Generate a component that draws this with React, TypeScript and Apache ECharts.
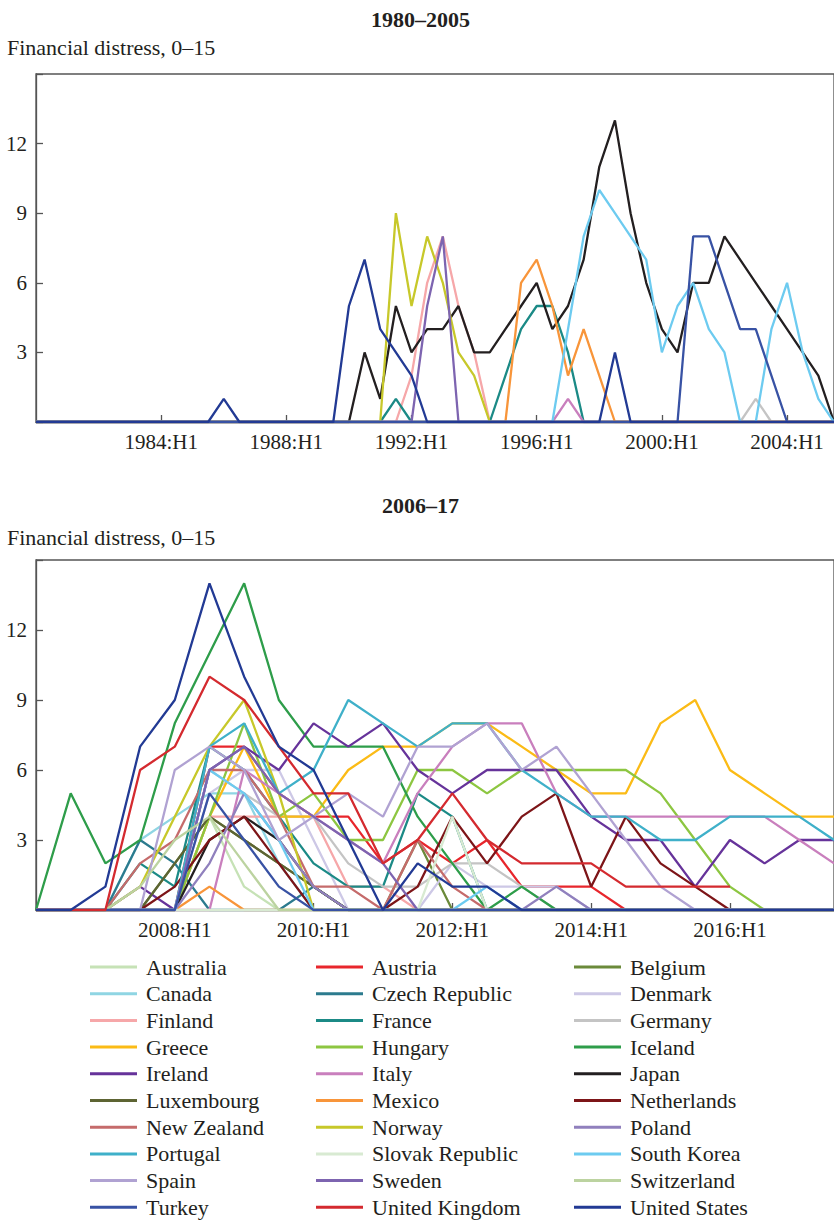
import React, { useEffect, useRef } from "react";
import * as echarts from "echarts";

const FONT = "'Liberation Serif', 'Times New Roman', serif";
const TEXT = "#231f20";
const FRAME = "#555555";

const COUNTRIES = [
  "Australia", "Austria", "Belgium",
  "Canada", "Czech Republic", "Denmark",
  "Finland", "France", "Germany",
  "Greece", "Hungary", "Iceland",
  "Ireland", "Italy", "Japan",
  "Luxembourg", "Mexico", "Netherlands",
  "New Zealand", "Norway", "Poland",
  "Portugal", "Slovak Republic", "South Korea",
  "Spain", "Sweden", "Switzerland",
  "Turkey", "United Kingdom", "United States",
];

const COLORS = [
  "#c6e2b6", "#e8262c", "#6b8a3a",
  "#8fd5e3", "#2c7b8e", "#cdc8e6",
  "#f6a7a9", "#1b8a86", "#c4c4c4",
  "#fbbb16", "#8dc641", "#2e9d4a",
  "#66339a", "#c97fbd", "#231f20",
  "#5d6433", "#f8953a", "#7d1518",
  "#c56b6b", "#c7c82a", "#9080bd",
  "#3fb0c9", "#d8ead2", "#6dcbf0",
  "#b0a2d2", "#7d64b0", "#bcd3a0",
  "#3852a4", "#d42a2f", "#223a94",
];

// Half-year categories
const TOP_YEARS_FROM = 1980;
const TOP_YEARS_TO = 2005;
const BOTTOM_YEARS_FROM = 2006;
const BOTTOM_YEARS_TO = 2017;

const TOP_LABEL_EVERY = 8;
const BOTTOM_LABEL_EVERY = 4;
const Y_TICKS = [3, 6, 9, 12];

// ---------- 1980-2005 (52 half-years) ----------
const topUnitedStates = [
  0, 0, 0, 0, 0, 0, 0, 0, 0, 0,
  0, 0, 1, 0, 0, 0, 0, 0, 0, 0,
  5, 7, 4, 3, 2, 0, 0, 0, 0, 0,
  0, 0, 0, 0, 0, 0, 0, 3, 0, 0,
  0, 0, 0, 0, 0, 0, 0, 0, 0, 0,
  0, 0,
];
const topJapan = [
  0, 0, 0, 0, 0, 0, 0, 0, 0, 0,
  0, 0, 0, 0, 0, 0, 0, 0, 0, 0,
  0, 3, 1, 5, 3, 4, 4, 5, 3, 3,
  4, 5, 6, 4, 5, 7, 11, 13, 9, 6,
  4, 3, 6, 6, 8, 7, 6, 5, 4, 3,
  2, 0,
];
const topNorway = [
  0, 0, 0, 0, 0, 0, 0, 0, 0, 0,
  0, 0, 0, 0, 0, 0, 0, 0, 0, 0,
  0, 0, 0, 9, 5, 8, 6, 3, 2, 0,
  0, 0, 0, 0, 0, 0, 0, 0, 0, 0,
  0, 0, 0, 0, 0, 0, 0, 0, 0, 0,
  0, 0,
];
const topFinland = [
  0, 0, 0, 0, 0, 0, 0, 0, 0, 0,
  0, 0, 0, 0, 0, 0, 0, 0, 0, 0,
  0, 0, 0, 0, 2, 6, 8, 5, 3, 0,
  0, 0, 0, 0, 0, 0, 0, 0, 0, 0,
  0, 0, 0, 0, 0, 0, 0, 0, 0, 0,
  0, 0,
];
const topSweden = [
  0, 0, 0, 0, 0, 0, 0, 0, 0, 0,
  0, 0, 0, 0, 0, 0, 0, 0, 0, 0,
  0, 0, 0, 0, 0, 5, 8, 0, 0, 0,
  0, 0, 0, 0, 0, 0, 0, 0, 0, 0,
  0, 0, 0, 0, 0, 0, 0, 0, 0, 0,
  0, 0,
];
const topFrance = [
  0, 0, 0, 0, 0, 0, 0, 0, 0, 0,
  0, 0, 0, 0, 0, 0, 0, 0, 0, 0,
  0, 0, 0, 1, 0, 0, 0, 0, 0, 0,
  2, 4, 5, 5, 3, 0, 0, 0, 0, 0,
  0, 0, 0, 0, 0, 0, 0, 0, 0, 0,
  0, 0,
];
const topMexico = [
  0, 0, 0, 0, 0, 0, 0, 0, 0, 0,
  0, 0, 0, 0, 0, 0, 0, 0, 0, 0,
  0, 0, 0, 0, 0, 0, 0, 0, 0, 0,
  0, 6, 7, 5, 2, 4, 2, 0, 0, 0,
  0, 0, 0, 0, 0, 0, 0, 0, 0, 0,
  0, 0,
];
const topItaly = [
  0, 0, 0, 0, 0, 0, 0, 0, 0, 0,
  0, 0, 0, 0, 0, 0, 0, 0, 0, 0,
  0, 0, 0, 0, 0, 0, 0, 0, 0, 0,
  0, 0, 0, 0, 1, 0, 0, 0, 0, 0,
  0, 0, 0, 0, 0, 0, 0, 0, 0, 0,
  0, 0,
];
const topSouthKorea = [
  0, 0, 0, 0, 0, 0, 0, 0, 0, 0,
  0, 0, 0, 0, 0, 0, 0, 0, 0, 0,
  0, 0, 0, 0, 0, 0, 0, 0, 0, 0,
  0, 0, 0, 0, 4, 8, 10, 9, 8, 7,
  3, 5, 6, 4, 3, 0, 0, 4, 6, 3,
  1, 0,
];
const topTurkey = [
  0, 0, 0, 0, 0, 0, 0, 0, 0, 0,
  0, 0, 0, 0, 0, 0, 0, 0, 0, 0,
  0, 0, 0, 0, 0, 0, 0, 0, 0, 0,
  0, 0, 0, 0, 0, 0, 0, 0, 0, 0,
  0, 0, 8, 8, 6, 4, 4, 2, 0, 0,
  0, 0,
];
const topGermany = [
  0, 0, 0, 0, 0, 0, 0, 0, 0, 0,
  0, 0, 0, 0, 0, 0, 0, 0, 0, 0,
  0, 0, 0, 0, 0, 0, 0, 0, 0, 0,
  0, 0, 0, 0, 0, 0, 0, 0, 0, 0,
  0, 0, 0, 0, 0, 0, 1, 0, 0, 0,
  0, 0,
];

// ---------- 2006-17 (24 half-years) ----------
const botAustralia = [0, 0, 0, 0, 0, 4, 1, 0, 0, 0, 0, 0, 0, 0, 0, 0, 0, 0, 0, 0, 0, 0, 0, 0];
const botAustria = [0, 0, 0, 0, 0, 7, 7, 5, 4, 4, 2, 3, 2, 3, 1, 1, 1, 0, 0, 0, 0, 0, 0, 0];
const botBelgium = [0, 0, 0, 0, 2, 4, 3, 2, 1, 0, 0, 3, 0, 0, 0, 0, 0, 0, 0, 0, 0, 0, 0, 0];
const botCanada = [0, 0, 0, 3, 4, 5, 5, 2, 0, 0, 0, 0, 0, 0, 0, 0, 0, 0, 0, 0, 0, 0, 0, 0];
const botCzechRepublic = [0, 0, 0, 3, 2, 0, 0, 0, 1, 0, 0, 0, 0, 0, 0, 0, 0, 0, 0, 0, 0, 0, 0, 0];
const botDenmark = [0, 0, 0, 0, 0, 5, 6, 6, 3, 0, 0, 0, 2, 1, 1, 1, 0, 0, 0, 0, 0, 0, 0, 0];
const botFinland = [0, 0, 0, 0, 0, 4, 4, 4, 4, 1, 1, 0, 0, 0, 0, 0, 0, 0, 0, 0, 0, 0, 0, 0];
const botFrance = [0, 0, 0, 2, 1, 7, 6, 4, 2, 1, 1, 5, 4, 0, 0, 0, 0, 0, 0, 0, 0, 0, 0, 0];
const botGermany = [0, 0, 0, 0, 0, 6, 5, 4, 4, 2, 1, 1, 2, 2, 1, 0, 0, 0, 0, 0, 0, 0, 0, 0];
const botGreece = [0, 0, 0, 0, 0, 4, 7, 4, 4, 6, 7, 7, 8, 8, 7, 6, 5, 5, 8, 9, 6, 5, 4, 4];
const botHungary = [0, 0, 0, 0, 0, 4, 8, 4, 5, 3, 3, 6, 6, 5, 6, 6, 6, 6, 5, 3, 1, 0, 0, 0];
const botIceland = [0, 5, 2, 3, 8, 11, 14, 9, 7, 7, 7, 4, 2, 0, 1, 0, 0, 0, 0, 0, 0, 0, 0, 0];
const botIreland = [0, 0, 0, 1, 0, 6, 7, 6, 8, 7, 8, 6, 5, 6, 6, 6, 4, 3, 3, 1, 3, 2, 3, 3];
const botItaly = [0, 0, 0, 0, 0, 0, 6, 5, 4, 3, 2, 5, 7, 8, 8, 5, 4, 4, 4, 4, 4, 4, 3, 2];
const botJapan = [0, 0, 0, 0, 0, 3, 4, 3, 1, 0, 0, 0, 0, 0, 0, 0, 0, 0, 0, 0, 0, 0, 0, 0];
const botLuxembourg = [0, 0, 0, 0, 2, 4, 3, 2, 1, 0, 0, 0, 0, 0, 0, 0, 0, 0, 0, 0, 0, 0, 0, 0];
const botMexico = [0, 0, 0, 0, 0, 1, 0, 0, 0, 0, 0, 0, 0, 0, 0, 0, 0, 0, 0, 0, 0, 0, 0, 0];
const botNetherlands = [0, 0, 0, 0, 1, 3, 4, 2, 0, 0, 0, 1, 4, 2, 4, 5, 1, 4, 2, 1, 0, 0, 0, 0];
const botNewZealand = [0, 0, 0, 2, 3, 6, 6, 4, 1, 1, 0, 3, 1, 0, 0, 0, 0, 0, 0, 0, 0, 0, 0, 0];
const botNorway = [0, 0, 0, 1, 4, 7, 9, 5, 0, 0, 0, 0, 0, 0, 0, 0, 0, 0, 0, 0, 0, 0, 0, 0];
const botPoland = [0, 0, 0, 0, 0, 2, 5, 3, 1, 0, 0, 0, 0, 0, 0, 1, 0, 0, 0, 0, 0, 0, 0, 0];
const botPortugal = [0, 0, 0, 0, 0, 7, 8, 5, 6, 9, 8, 7, 8, 8, 6, 5, 4, 4, 3, 3, 4, 4, 4, 3];
const botSlovakRepublic = [0, 0, 0, 0, 0, 0, 0, 0, 0, 0, 0, 0, 4, 0, 0, 0, 0, 0, 0, 0, 0, 0, 0, 0];
const botSouthKorea = [0, 0, 0, 0, 0, 6, 5, 3, 0, 0, 0, 0, 0, 1, 0, 0, 0, 0, 0, 0, 0, 0, 0, 0];
const botSpain = [0, 0, 0, 0, 6, 7, 6, 3, 4, 5, 4, 7, 7, 8, 6, 7, 5, 3, 1, 0, 0, 0, 0, 0];
const botSweden = [0, 0, 0, 0, 0, 6, 7, 5, 4, 3, 2, 0, 0, 0, 0, 0, 0, 0, 0, 0, 0, 0, 0, 0];
const botSwitzerland = [0, 0, 0, 1, 3, 4, 2, 0, 0, 0, 0, 0, 0, 0, 0, 0, 0, 0, 0, 0, 0, 0, 0, 0];
const botTurkey = [0, 0, 0, 0, 0, 5, 3, 1, 0, 0, 0, 0, 0, 0, 0, 0, 0, 0, 0, 0, 0, 0, 0, 0];
const botUnitedKingdom = [0, 0, 0, 6, 7, 10, 9, 7, 5, 5, 2, 3, 5, 3, 2, 2, 2, 1, 1, 1, 1, null, null, null];
const botUnitedStates = [0, 0, 1, 7, 9, 14, 10, 7, 6, 3, 0, 2, 1, 1, 0, 0, 0, 0, 0, 0, 0, 0, 0, 0];

const TOP_SERIES: [string, number[]][] = [
  ["Finland", topFinland],
  ["France", topFrance],
  ["Germany", topGermany],
  ["Italy", topItaly],
  ["Japan", topJapan],
  ["Mexico", topMexico],
  ["Norway", topNorway],
  ["South Korea", topSouthKorea],
  ["Sweden", topSweden],
  ["Turkey", topTurkey],
  ["United States", topUnitedStates],
];

const BOTTOM_SERIES: [string, (number | null)[]][] = [
  ["Australia", botAustralia],
  ["Austria", botAustria],
  ["Belgium", botBelgium],
  ["Canada", botCanada],
  ["Czech Republic", botCzechRepublic],
  ["Denmark", botDenmark],
  ["Finland", botFinland],
  ["France", botFrance],
  ["Germany", botGermany],
  ["Greece", botGreece],
  ["Hungary", botHungary],
  ["Iceland", botIceland],
  ["Ireland", botIreland],
  ["Italy", botItaly],
  ["Japan", botJapan],
  ["Luxembourg", botLuxembourg],
  ["Mexico", botMexico],
  ["Netherlands", botNetherlands],
  ["New Zealand", botNewZealand],
  ["Norway", botNorway],
  ["Poland", botPoland],
  ["Portugal", botPortugal],
  ["Slovak Republic", botSlovakRepublic],
  ["South Korea", botSouthKorea],
  ["Spain", botSpain],
  ["Sweden", botSweden],
  ["Switzerland", botSwitzerland],
  ["Turkey", botTurkey],
  ["United Kingdom", botUnitedKingdom],
  ["United States", botUnitedStates],
];

function halfYears(from: number, to: number): string[] {
  const out: string[] = [];
  for (let y = from; y <= to; y++) {
    out.push(`${y}:H1`, `${y}:H2`);
  }
  return out;
}

const colorOf = (name: string) => COLORS[COUNTRIES.indexOf(name)];

function buildOption() {
  const topCats = halfYears(TOP_YEARS_FROM, TOP_YEARS_TO);
  const botCats = halfYears(BOTTOM_YEARS_FROM, BOTTOM_YEARS_TO);

  const mkX = (cats: string[], every: number, gridIndex: number) => ({
    type: "category",
    gridIndex,
    data: cats,
    boundaryGap: false,
    axisLine: { show: true, lineStyle: { color: FRAME, width: 1.3 } },
    axisTick: {
      show: true,
      inside: true,
      length: 7,
      interval: (i: number) => i > 0 && i % every === 0,
      lineStyle: { color: FRAME, width: 1.3 },
    },
    axisLabel: {
      interval: (i: number) => i > 0 && i % every === 0,
      fontFamily: FONT,
      fontSize: 21,
      color: TEXT,
      margin: 9,
    },
    splitLine: { show: false },
  });

  const mkY = (gridIndex: number) => ({
    type: "value",
    gridIndex,
    min: 0,
    max: 15,
    interval: 3,
    axisLine: { show: true, lineStyle: { color: FRAME, width: 1.3 } },
    axisTick: { show: true, inside: true, length: 7, lineStyle: { color: FRAME, width: 1.3 } },
    axisLabel: {
      fontFamily: FONT,
      fontSize: 21,
      color: TEXT,
      margin: 9,
      formatter: (v: number) => (Y_TICKS.indexOf(v) >= 0 ? String(v) : ""),
    },
    splitLine: { show: false },
  });

  const mkSeries = (name: string, data: (number | null)[], idx: number) => {
    const c = colorOf(name);
    return {
      type: "line",
      name,
      data,
      xAxisIndex: idx,
      yAxisIndex: idx,
      symbol: "none",
      showSymbol: false,
      connectNulls: false,
      color: c,
      lineStyle: { width: 2.3, color: c },
      itemStyle: { color: c },
      emphasis: { disabled: true },
    };
  };

  const legendCols = [90, 316, 574];

  return {
    animation: false,
    backgroundColor: "#ffffff",
    grid: [
      { left: 36, right: -2, top: 74, height: 348, show: true, borderColor: FRAME, borderWidth: 1.3 },
      { left: 36, right: -3, top: 560, height: 350, show: true, borderColor: FRAME, borderWidth: 1.3 },
    ],
    xAxis: [mkX(topCats, TOP_LABEL_EVERY, 0), mkX(botCats, BOTTOM_LABEL_EVERY, 1)],
    yAxis: [mkY(0), mkY(1)],
    legend: legendCols.map((left, c) => ({
      orient: "vertical",
      left,
      top: 956,
      padding: 0,
      icon: "rect",
      itemWidth: 47,
      itemHeight: 3,
      itemGap: 4.7,
      selectedMode: false,
      data: COUNTRIES.filter((_, i) => i % 3 === c),
      textStyle: {
        fontFamily: FONT,
        fontSize: 22,
        lineHeight: 22,
        color: TEXT,
        padding: [0, 0, 0, 4],
      },
    })),
    graphic: [
      {
        type: "text",
        left: 371,
        top: 8,
        style: { text: "1980–2005", font: `bold 22px ${FONT}`, fill: TEXT },
      },
      {
        type: "text",
        left: 7,
        top: 36,
        style: { text: "Financial distress, 0–15", font: `22px ${FONT}`, fill: TEXT },
      },
      {
        type: "text",
        left: 382,
        top: 494,
        style: { text: "2006–17", font: `bold 22px ${FONT}`, fill: TEXT },
      },
      {
        type: "text",
        left: 7,
        top: 526,
        style: { text: "Financial distress, 0–15", font: `22px ${FONT}`, fill: TEXT },
      },
    ],
    series: [
      ...TOP_SERIES.map(([n, d]) => mkSeries(n, d, 0)),
      ...BOTTOM_SERIES.map(([n, d]) => mkSeries(n, d, 1)),
    ],
  };
}

export default function App() {
  const ref = useRef<HTMLDivElement>(null);
  useEffect(() => {
    if (!ref.current) return;
    const chart = echarts.init(ref.current, undefined, { renderer: "svg" });
    chart.setOption(buildOption() as any);
    return () => chart.dispose();
  }, []);
  return (
    <div
      ref={ref}
      style={{ position: "fixed", left: 0, top: 0, width: 834, height: 1220, background: "#fff" }}
    />
  );
}
